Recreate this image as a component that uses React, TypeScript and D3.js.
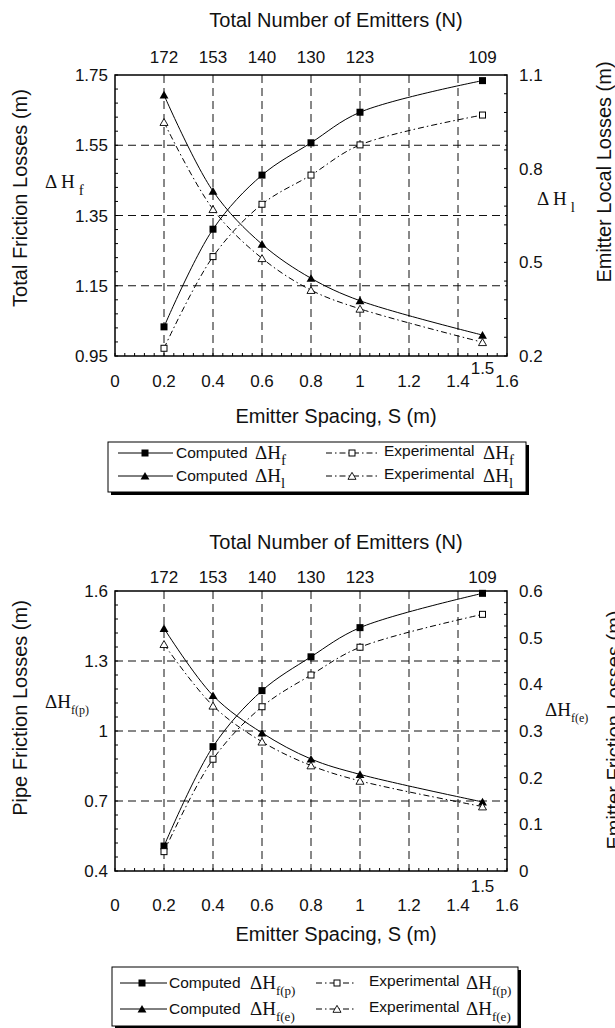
import React from 'react';
import * as d3 from 'd3';

// emitter spacing (m) and the matching number of emitters
const spacing = [0.2, 0.4, 0.6, 0.8, 1.0, 1.5];
const emitterCount = ['172', '153', '140', '130', '123', '109'];

// top panel: total friction losses (left) and emitter local losses (right)
const computedHf = [1.033, 1.311, 1.465, 1.557, 1.644, 1.734];
const experimentalHf = [0.972, 1.233, 1.382, 1.465, 1.551, 1.636];
const computedHl = [1.036, 0.728, 0.558, 0.449, 0.377, 0.267];
const experimentalHl = [0.949, 0.67, 0.513, 0.411, 0.351, 0.244];

// bottom panel: pipe friction losses (left) and emitter friction losses (right)
const computedHfp = [0.507, 0.933, 1.173, 1.318, 1.443, 1.59];
const experimentalHfp = [0.483, 0.879, 1.104, 1.24, 1.359, 1.5];
const computedHfe = [0.52, 0.376, 0.296, 0.24, 0.207, 0.148];
const experimentalHfe = [0.486, 0.354, 0.277, 0.226, 0.193, 0.138];

const xTicks = [0, 0.2, 0.4, 0.6, 0.8, 1, 1.2, 1.4, 1.6];
const xTickLabels = ['0', '0.2', '0.4', '0.6', '0.8', '1', '1.2', '1.4', '1.6'];
const xGrid = [0.2, 0.4, 0.6, 0.8, 1, 1.2, 1.4];

const topLeftTicks = [0.95, 1.15, 1.35, 1.55, 1.75];
const topRightTicks = [0.2, 0.5, 0.8, 1.1];
const bottomLeftTicks = [0.4, 0.7, 1, 1.3, 1.6];
const bottomRightTicks = [0, 0.1, 0.2, 0.3, 0.4, 0.5, 0.6];

const SANS = 'Liberation Sans, Arial, sans-serif';
const SERIF = 'Liberation Serif, Times New Roman, serif';

const x = d3.scaleLinear().domain([0, 1.6]).range([115, 507]);

const line = (ys: number[], y: d3.ScaleLinear<number, number>) =>
  d3.line<number>()
    .x((_, i) => x(spacing[i]))
    .y(d => y(d))
    .curve(d3.curveCatmullRom.alpha(0.5))(ys) || '';

const tri = (size: number) => d3.symbol(d3.symbolTriangle, size)() || '';

const Marker = ({ kind, cx, cy }: { kind: string; cx: number; cy: number }) => {
  if (kind === 'sq') return <rect x={cx - 3.5} y={cy - 3.5} width={7} height={7} fill="#000" />;
  if (kind === 'osq') return <rect x={cx - 3} y={cy - 3} width={6} height={6} fill="#fff" stroke="#000" strokeWidth={1} />;
  if (kind === 'tri') return <path d={tri(34)} transform={`translate(${cx},${cy + 1})`} fill="#000" />;
  return <path d={tri(28)} transform={`translate(${cx},${cy + 1})`} fill="#fff" stroke="#000" strokeWidth={0.9} />;
};

const DASHDOT = '6,3,1.5,3';

const Sub = ({ x0, y0, main, sub, size, subSize }: any) => (
  <text x={x0} y={y0} fontFamily={SERIF} fontSize={size} fill="#111">
    {main}
    <tspan dy={6} fontSize={subSize}>{sub}</tspan>
  </text>
);

const Panel = (p: any) => {
  const yL = d3.scaleLinear().domain(p.leftDomain).range([p.y1, p.y0]);
  const yR = d3.scaleLinear().domain(p.rightDomain).range([p.y1, p.y0]);
  const minorX = d3.range(0, 1.6001, 0.04);
  const minorL = d3.range(p.leftDomain[0], p.leftDomain[1] + 1e-6, p.leftMinor);
  const minorR = d3.range(p.rightDomain[0], p.rightDomain[1] + 1e-6, p.rightMinor);
  const series = [
    { ys: p.compL, y: yL, kind: 'sq', dash: undefined },
    { ys: p.expL, y: yL, kind: 'osq', dash: DASHDOT },
    { ys: p.compR, y: yR, kind: 'tri', dash: undefined },
    { ys: p.expR, y: yR, kind: 'otri', dash: DASHDOT },
  ];
  const midX = 336;
  return (
    <g>
      {/* grid */}
      {xGrid.map(v => (
        <line key={'gx' + v} x1={x(v)} x2={x(v)} y1={p.y0} y2={p.y1} stroke="#111" strokeWidth={1} strokeDasharray="8,5" />
      ))}
      {p.leftTicks.slice(1, -1).map((v: number) => (
        <line key={'gy' + v} x1={115} x2={507} y1={yL(v)} y2={yL(v)} stroke="#111" strokeWidth={1} strokeDasharray="8,5" />
      ))}
      {/* minor ticks */}
      {minorX.map(v => <line key={'mx' + v} x1={x(v)} x2={x(v)} y1={p.y1} y2={p.y1 - 3} stroke="#000" />)}
      {minorL.map(v => <line key={'ml' + v} x1={115} x2={118} y1={yL(v)} y2={yL(v)} stroke="#000" />)}
      {minorR.map(v => <line key={'mr' + v} x1={507} x2={504} y1={yR(v)} y2={yR(v)} stroke="#000" />)}
      <rect x={115} y={p.y0} width={392} height={p.y1 - p.y0} fill="none" stroke="#000" strokeWidth={1.5} />

      {/* series */}
      {series.map((s, i) => (
        <path key={'l' + i} d={line(s.ys, s.y)} fill="none" stroke="#000" strokeWidth={1} strokeDasharray={s.dash} />
      ))}
      {series.map((s, i) => s.ys.map((v: number, j: number) => (
        <Marker key={'m' + i + '-' + j} kind={s.kind} cx={x(spacing[j])} cy={s.y(v)} />
      )))}

      {/* tick labels */}
      <g fontFamily={SANS} fontSize={17} fill="#111">
        {p.leftTicks.map((v: number, i: number) => (
          <text key={'tl' + v} x={108} y={yL(v) + 6} textAnchor="end">{p.leftLabels[i]}</text>
        ))}
        {p.rightTicks.map((v: number, i: number) => (
          <text key={'tr' + v} x={519} y={yR(v) + 6} textAnchor="start">{p.rightLabels[i]}</text>
        ))}
        {xTicks.map((v, i) => (
          <text key={'tx' + v} x={x(v)} y={p.y1 + p.xLabelDy} textAnchor="middle">{xTickLabels[i]}</text>
        ))}
        <text x={x(1.5)} y={p.y1 + p.x15Dy} textAnchor="middle">1.5</text>
        {spacing.map((v, i) => (
          <text key={'tn' + v} x={x(v)} y={p.y0 + p.topLabelDy} textAnchor="middle">{emitterCount[i]}</text>
        ))}
      </g>

      {/* axis titles */}
      <g fontFamily={SANS} fontSize={20} fill="#111">
        <text x={midX} y={p.y0 + p.topTitleDy} textAnchor="middle">Total Number of Emitters (N)</text>
        <text x={midX} y={p.y1 + p.xTitleDy} textAnchor="middle">Emitter Spacing, S (m)</text>
        <text transform={`translate(27,${p.leftTitleY}) rotate(-90)`} textAnchor="middle">{p.leftTitle}</text>
        <text transform={`translate(${p.rightTitleX},${p.rightTitleY}) rotate(-90)`} textAnchor="middle">{p.rightTitle}</text>
      </g>
      {p.sideLabels}

      {/* legend */}
      <rect x={p.lg.x + 3} y={p.lg.y + 3} width={p.lg.w} height={p.lg.h} fill="#000" />
      <rect x={p.lg.x} y={p.lg.y} width={p.lg.w} height={p.lg.h} fill="#fff" stroke="#000" strokeWidth={1} />
      {p.legendRows.map((r: any, i: number) => {
        const cy = p.lg.rows[i];
        return (
          <g key={'lg' + i}>
            <line x1={p.lg.c1[0]} x2={p.lg.c1[2]} y1={cy} y2={cy} stroke="#000" />
            <Marker kind={r.k1} cx={p.lg.c1[1]} cy={cy} />
            <text x={p.lg.c1[3]} y={cy + 5} fontFamily={SANS} fontSize={15.5} fill="#111">Computed</text>
            <Sub x0={p.lg.c1[4]} y0={cy + 6} main="ΔH" sub={r.sub} size={19} subSize={p.lg.subSize} />
            <line x1={p.lg.c2[0]} x2={p.lg.c2[2]} y1={cy} y2={cy} stroke="#000" strokeDasharray={DASHDOT} />
            <Marker kind={r.k2} cx={p.lg.c2[1]} cy={cy} />
            <text x={p.lg.c2[3]} y={cy + 3} fontFamily={SANS} fontSize={15.5} fill="#111">Experimental</text>
            <Sub x0={p.lg.c2[4]} y0={cy + 6} main="ΔH" sub={r.sub} size={19} subSize={p.lg.subSize} />
          </g>
        );
      })}
    </g>
  );
};

export default function App() {
  return (
    <div style={{ position: 'absolute', left: 0, top: 0, background: '#fff' }}>
      <svg width={615} height={1028} style={{ display: 'block' }}>
        <rect width={615} height={1028} fill="#fff" />
        <Panel
          y0={75} y1={356}
          leftDomain={[0.95, 1.75]} rightDomain={[0.2, 1.1]}
          leftTicks={topLeftTicks} leftLabels={['0.95', '1.15', '1.35', '1.55', '1.75']}
          rightTicks={topRightTicks} rightLabels={['0.2', '0.5', '0.8', '1.1']}
          leftMinor={0.04} rightMinor={0.06}
          compL={computedHf} expL={experimentalHf} compR={computedHl} expR={experimentalHl}
          xLabelDy={31} x15Dy={18} xTitleDy={67} topLabelDy={-12} topTitleDy={-48}
          leftTitle="Total Friction Losses (m)" leftTitleY={198}
          rightTitle="Emitter Local Losses (m)" rightTitleX={611} rightTitleY={172}
          sideLabels={
            <g fontFamily={SERIF} fill="#111">
              <text x={45} y={188} fontSize={19}>Δ H<tspan dx={4} dy={7} fontSize={15}>f</tspan></text>
              <text x={537} y={205} fontSize={19}>Δ H<tspan dx={4} dy={7} fontSize={15}>l</tspan></text>
            </g>
          }
          lg={{ x: 108, y: 442, w: 418, h: 50, rows: [453, 476], c1: [118, 145, 173, 176, 255], c2: [326, 352, 377, 384, 483], subSize: 15 }}
          legendRows={[{ k1: 'sq', k2: 'osq', sub: 'f' }, { k1: 'tri', k2: 'otri', sub: 'l' }]}
        />
        <Panel
          y0={591} y1={871}
          leftDomain={[0.4, 1.6]} rightDomain={[0, 0.6]}
          leftTicks={bottomLeftTicks} leftLabels={['0.4', '0.7', '1', '1.3', '1.6']}
          rightTicks={bottomRightTicks} rightLabels={['0', '0.1', '0.2', '0.3', '0.4', '0.5', '0.6']}
          leftMinor={0.06} rightMinor={0.025}
          compL={computedHfp} expL={experimentalHfp} compR={computedHfe} expR={experimentalHfe}
          xLabelDy={40} x15Dy={21} xTitleDy={70} topLabelDy={-8} topTitleDy={-42}
          leftTitle="Pipe Friction Losses (m)" leftTitleY={708}
          rightTitle="Emitter Friction Losses (m)" rightTitleX={621} rightTitleY={730}
          sideLabels={
            <g fontFamily={SERIF} fill="#111">
              <text x={45} y={708} fontSize={19}>ΔH<tspan dy={6} fontSize={12}>f(p)</tspan></text>
              <text x={545} y={716} fontSize={19}>ΔH<tspan dy={6} fontSize={12}>f(e)</tspan></text>
            </g>
          }
          lg={{ x: 112, y: 967, w: 406, h: 59, rows: [983, 1009], c1: [120, 142, 167, 169, 250], c2: [316, 337, 356, 369, 466], subSize: 13 }}
          legendRows={[{ k1: 'sq', k2: 'osq', sub: 'f(p)' }, { k1: 'tri', k2: 'otri', sub: 'f(e)' }]}
        />
      </svg>
    </div>
  );
}
